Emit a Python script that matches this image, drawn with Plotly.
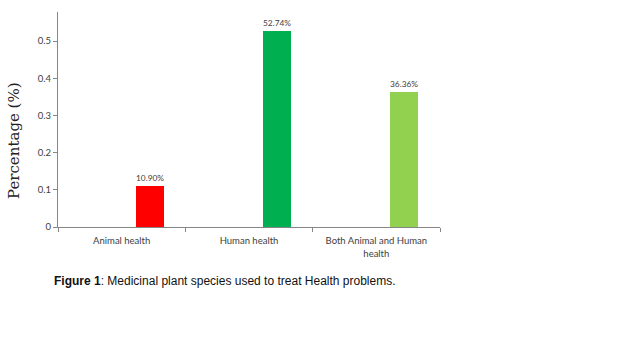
import plotly.graph_objects as go

categories = ["Animal health", "Human health", "Both Animal and Human<br>health"]
values = [0.1090, 0.5274, 0.3636]
labels = ["10.90%", "52.74%", "36.36%"]
colors = ["#FF0000", "#00B050", "#92D050"]
yticks = [0, 0.1, 0.2, 0.3, 0.4, 0.5]
yticklabels = ["0", "0.1", "0.2", "0.3", "0.4", "0.5"]

W, H = 642, 344
L, T = 58, 12
R = W - 440
B = H - 227

fig = go.Figure()
fig.add_trace(go.Bar(
    x=categories, y=values, text=labels, textposition="outside",
    marker=dict(color=colors, line=dict(width=0)),
    width=0.22, offset=0.11, cliponaxis=False,
    textfont=dict(family="Lato, Open Sans, sans-serif", size=10, color="#404040"),
))
fig.update_layout(
    width=W, height=H, paper_bgcolor="white", plot_bgcolor="white",
    margin=dict(l=L, r=R, t=T, b=B), showlegend=False,
    bargap=0,
    font=dict(family="Lato, Open Sans, sans-serif", size=9.5, color="#404040"),
)
fig.update_xaxes(
    showline=True, linecolor="#868686", linewidth=1, ticks="outside",
    tickson="boundaries", ticklen=4, tickcolor="#868686", showgrid=False,
    tickfont=dict(size=9.5, color="#404040"), automargin=False,
    ticklabelstandoff=5,
)
fig.update_yaxes(
    range=[0, 0.578], showline=True, linecolor="#868686", linewidth=1,
    ticks="outside", ticklen=4, tickcolor="#868686", showgrid=False,
    tickvals=yticks, ticktext=yticklabels, zeroline=False,
    tickfont=dict(size=9.5, color="#404040"), automargin=False,
)
fig.add_annotation(
    text="Percentage (%)", textangle=-90, xref="paper", yref="paper",
    x=(14 - 58) / 382, y=(227 - 141) / 215, showarrow=False,
    font=dict(family="DejaVu Serif, Liberation Serif, serif", size=15, color="#222222"),
    xanchor="center", yanchor="middle",
)
fig.add_annotation(
    text="<b>Figure 1</b>: Medicinal plant species used to treat Health problems.",
    xref="paper", yref="paper", x=(52 - 58) / 382, y=(227 - 281) / 215,
    showarrow=False, xanchor="left", yanchor="middle",
    font=dict(family="Liberation Sans, Arial, sans-serif", size=12, color="#111111"),
)
fig.write_html("out.html", config={"displayModeBar": False},
               post_script="document.body.style.margin='0';")
